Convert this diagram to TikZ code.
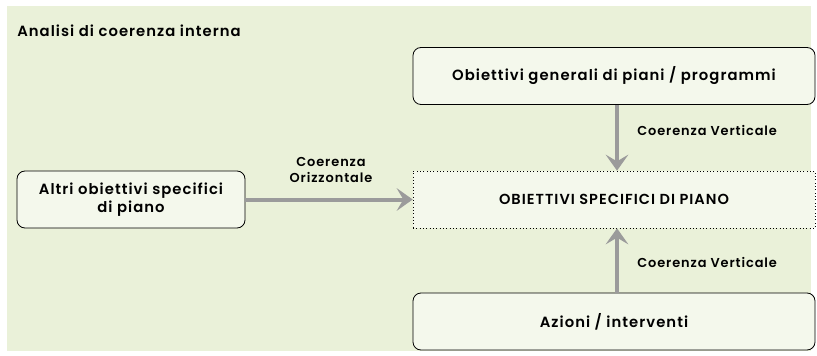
\documentclass[tikz,border=0pt]{standalone}
\usepackage{fontspec}
\setmainfont{Poppins}[LetterSpace=7]
\newfontfamily\medfont{Poppins SemiBold}[LetterSpace=7]
\usetikzlibrary{arrows.meta}
\definecolor{bgpanel}{HTML}{EAF1D9}
\definecolor{boxfill}{HTML}{F4F8EC}
\definecolor{flowgray}{HTML}{9B9B9B}
\tikzset{
  boxtext/.style={font=\medfont\fontsize{11.1pt}{14pt}\selectfont},
  roundbox/.style={draw=black, line width=0.6pt, fill=boxfill, rounded corners=6pt, align=center,
    boxtext, inner sep=0pt},
  dotbox/.style={draw=black, line width=0.5pt, dotted, fill=boxfill, align=center,
    font=\medfont\fontsize{10.9pt}{14pt}\selectfont, inner sep=0pt},
  flow/.style={draw=flowgray, line width=3pt, -{Stealth[length=12pt, width=17pt, inset=5pt]}},
  flowlabel/.style={font=\medfont\fontsize{9.7pt}{12.5pt}\selectfont, align=center, inner sep=0pt}
}
\begin{document}
\begin{tikzpicture}[x=0.75pt, y=-0.75pt]
  \useasboundingbox (0,0) rectangle (817,356);
  \fill[white] (0,0) rectangle (817,356);
  \fill[bgpanel] (7,6) rectangle (811,351);

  \node[anchor=west, boxtext, inner sep=0pt] (title) at (17,31) {Analisi di coerenza interna};

  \node[roundbox, minimum width=402*0.75pt, minimum height=57*0.75pt] (gen) at (614,76) {Obiettivi generali di piani / programmi};
  \node[dotbox, minimum width=402*0.75pt, minimum height=57*0.75pt] (spec) at (614,199.5) {OBIETTIVI SPECIFICI DI PIANO};
  \node[roundbox, minimum width=228*0.75pt, minimum height=57*0.75pt] (altri) at (131,199.5) {Altri obiettivi specifici\\di piano};
  \node[roundbox, minimum width=402*0.75pt, minimum height=57*0.75pt] (azioni) at (614,321.5) {Azioni / interventi};

  \draw[flow] (gen.south -| 617,0) -- (spec.north -| 617,0);
  \draw[flow] (azioni.north -| 617,0) -- (spec.south -| 617,0);
  \draw[flow] (altri.east) -- (spec.west);

  \node[flowlabel, anchor=west] (lv1) at (637,130) {Coerenza Verticale};
  \node[flowlabel, anchor=west] (lv2) at (637,262) {Coerenza Verticale};
  \node[flowlabel] (lo) at (331,170) {Coerenza\\Orizzontale};
\end{tikzpicture}
\end{document}
